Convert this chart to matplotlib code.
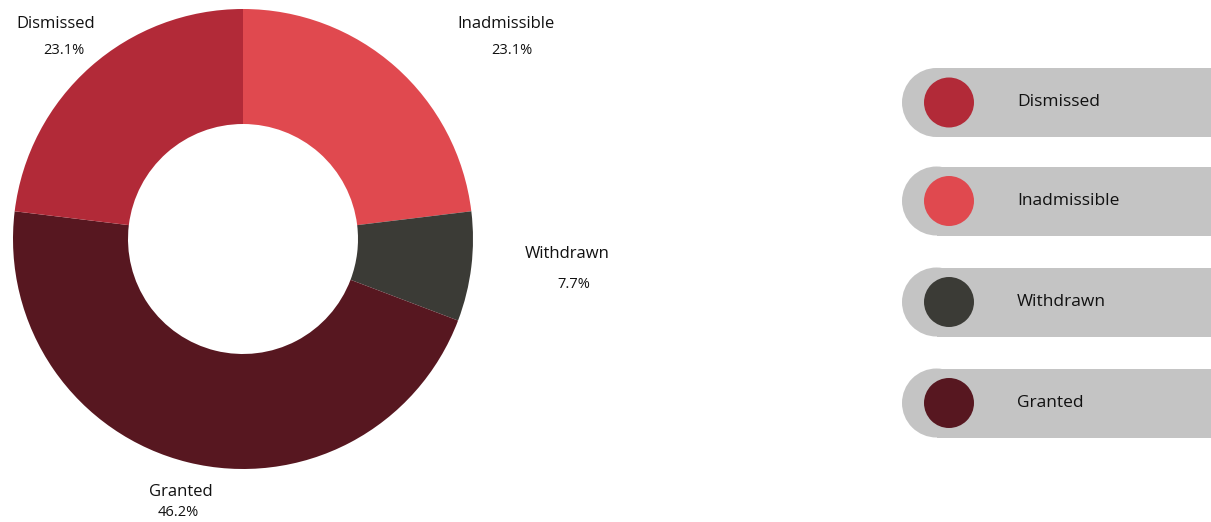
import matplotlib
matplotlib.use("Agg")
import matplotlib.pyplot as plt
from matplotlib.patches import Rectangle, Circle

categories = ["Dismissed", "Inadmissible", "Withdrawn", "Granted"]
values = [3, 3, 1, 6]
pct_labels = ["23.1%", "23.1%", "7.7%", "46.2%"]
colors = ["#B22A38", "#E0494F", "#3B3B36", "#571720"]

W, H = 1211, 522
fig = plt.figure(figsize=(W / 100, H / 100), dpi=100)
ax = fig.add_axes([0, 0, 1, 1])

plt.rcParams["font.family"] = ["Open Sans", "DejaVu Sans"]

# pie drawn clockwise from top: Inadmissible, Withdrawn, Granted, Dismissed
order = [1, 2, 3, 0]
cx, cy, R = 243, H - 239, 230
ax.pie([values[i] for i in order], colors=[colors[i] for i in order],
       startangle=90, counterclock=False, center=(cx, cy), radius=R,
       wedgeprops=dict(width=115, linewidth=0), frame=True)
ax.set_xlim(0, W)
ax.set_ylim(0, H)
ax.set_aspect("equal")
ax.axis("off")

# outside labels (name + percentage)
label_pos = {
    "Dismissed": ((56, 24), (64, 51)),
    "Inadmissible": ((506, 24), (512, 51)),
    "Withdrawn": ((567, 254), (574, 285)),
    "Granted": ((181, 492), (178, 513)),
}
for i, cat in enumerate(categories):
    (nx, ny), (px, py) = label_pos[cat]
    ax.text(nx, H - ny, cat, ha="center", va="center", fontsize=12, color="#111111")
    ax.text(px, H - py, pct_labels[i], ha="center", va="center", fontsize=10.5, color="#111111")

# legend pills
pill_y = [102.5, 201, 302, 403]
rr = 34.5
for i, cat in enumerate(categories):
    yc = H - pill_y[i]
    ax.add_patch(Circle((902 + rr, yc), rr, facecolor="#C4C4C4", edgecolor="none"))
    ax.add_patch(Rectangle((902 + rr, yc - rr), 400, 2 * rr, facecolor="#C4C4C4", edgecolor="none"))
    ax.add_patch(Circle((949, yc), 25, facecolor=colors[i], edgecolor="none"))
    ax.text(1017, yc, cat, ha="left", va="center", fontsize=12.5, color="#111111")

fig.savefig("out.png", dpi=100)
